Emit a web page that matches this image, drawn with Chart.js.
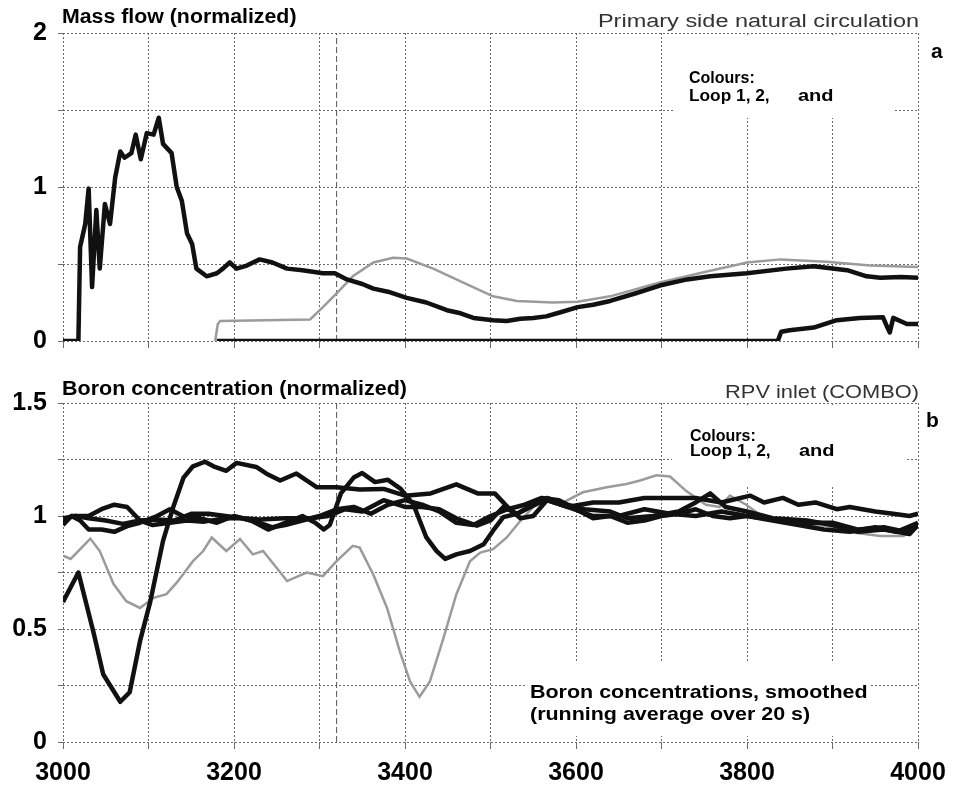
<!DOCTYPE html>
<html>
<head>
<meta charset="utf-8">
<script src="https://cdn.jsdelivr.net/npm/chart.js@4.4.0/dist/chart.umd.min.js"></script>
<style>
body { margin: 0; background: #fff; }
#wrap { position: relative; width: 962px; height: 791px; overflow: hidden; font-family: "Liberation Sans", Arial, sans-serif; }
canvas { position: absolute; left: 0; }
.t { position: absolute; white-space: nowrap; line-height: 1; color: #000; }
.b { font-weight: bold; }
.g { color: #333; }
</style>
</head>
<body>
<div id="wrap">
  <canvas id="flowChart" width="962" height="367" style="top:0"></canvas>
  <canvas id="boronChart" width="962" height="423" style="top:370px"></canvas>

  <div class="t b" style="left:62px;top:6.5px;font-size:19.5px" data-w="235">Mass flow (normalized)</div>
  <div class="t g" style="right:43px;top:11.8px;font-size:18px" data-w="321" data-r="1">Primary side natural circulation</div>
  <div class="t b" style="left:931px;top:40px;font-size:21px">a</div>
  <div class="t b" style="left:689px;top:70px;font-size:16px" data-w="66">Colours:</div>
  <div class="t b" style="left:689px;top:88px;font-size:16px" data-w="81">Loop 1, 2,</div>
  <div class="t b" style="left:798px;top:88px;font-size:16px" data-w="35">and</div>

  <div class="t b" style="left:62px;top:378.5px;font-size:19.5px" data-w="345">Boron concentration (normalized)</div>
  <div class="t g" style="right:43px;top:383px;font-size:18px" data-w="194" data-r="1">RPV inlet (COMBO)</div>
  <div class="t b" style="left:926px;top:409px;font-size:21px">b</div>
  <div class="t b" style="left:690px;top:428px;font-size:16px" data-w="66">Colours:</div>
  <div class="t b" style="left:690px;top:443px;font-size:16px" data-w="81">Loop 1, 2,</div>
  <div class="t b" style="left:799px;top:443px;font-size:16px" data-w="35">and</div>
  <div class="t b" style="left:530px;top:682px;font-size:19px" data-w="338">Boron concentrations, smoothed</div>
  <div class="t b" style="left:530px;top:704px;font-size:19px" data-w="280">(running average over 20 s)</div>
</div>

<script>
// ---- data (time in s, normalized values) ----
const T_MIN = 3000;
const T_MAX = 4000;
const MARKER_T = 3320;

// (a) mass flow
const flowLoopAT = [3000, 3018, 3020, 3026, 3030, 3034, 3039, 3043, 3049, 3055, 3061, 3067, 3072, 3080, 3085, 3091, 3098, 3106, 3112, 3117, 3127, 3133, 3139, 3145, 3151, 3156, 3168, 3180, 3187, 3195, 3203, 3215, 3230, 3245, 3262, 3280, 3304, 3318, 3332, 3350, 3363, 3380, 3402, 3425, 3449, 3465, 3480, 3503, 3519, 3535, 3550, 3565, 3581, 3602, 3620, 3640, 3670, 3698, 3730, 3757, 3800, 3846, 3878, 3917, 3940, 3956, 3980, 4000];
const flowLoopA  = [0, 0, 0.61, 0.76, 0.99, 0.35, 0.85, 0.47, 0.89, 0.76, 1.06, 1.23, 1.19, 1.22, 1.34, 1.18, 1.35, 1.34, 1.45, 1.28, 1.22, 1.0, 0.91, 0.70, 0.63, 0.47, 0.42, 0.44, 0.47, 0.51, 0.47, 0.49, 0.53, 0.51, 0.47, 0.46, 0.44, 0.44, 0.40, 0.37, 0.34, 0.32, 0.28, 0.25, 0.20, 0.18, 0.15, 0.135, 0.13, 0.145, 0.15, 0.16, 0.185, 0.22, 0.235, 0.26, 0.31, 0.36, 0.40, 0.42, 0.44, 0.47, 0.485, 0.46, 0.42, 0.41, 0.415, 0.41];

const flowLoopBT = [3178, 3181, 3184, 3238, 3289, 3304, 3320, 3339, 3363, 3386, 3402, 3433, 3472, 3503, 3531, 3573, 3602, 3640, 3698, 3757, 3800, 3839, 3893, 3944, 4000];
const flowLoopB  = [0, 0.11, 0.13, 0.135, 0.14, 0.22, 0.31, 0.42, 0.51, 0.54, 0.535, 0.47, 0.37, 0.29, 0.26, 0.25, 0.255, 0.29, 0.38, 0.456, 0.51, 0.53, 0.515, 0.49, 0.48];

const flowLoopCT = [3180, 3836, 3840, 3850, 3878, 3905, 3932, 3959, 3964, 3967, 3971, 3987, 4000];
const flowLoopC  = [0, 0, 0.06, 0.07, 0.087, 0.135, 0.15, 0.155, 0.09, 0.055, 0.15, 0.11, 0.11];

// (b) boron concentration
const boronPT = [3000, 3018, 3036, 3047, 3067, 3078, 3090, 3102, 3117, 3129, 3141, 3152, 3166, 3176, 3191, 3203, 3226, 3238, 3254, 3273, 3297, 3320, 3347, 3375, 3400, 3430, 3460, 3485, 3505, 3520, 3535, 3550, 3566, 3590, 3620, 3650, 3680, 3710, 3740, 3770, 3800, 3830, 3860, 3900, 3930, 3960, 3985, 4000];
const boronP  = [0.62, 0.75, 0.48, 0.30, 0.178, 0.22, 0.445, 0.62, 0.89, 1.04, 1.17, 1.22, 1.24, 1.22, 1.20, 1.235, 1.217, 1.187, 1.157, 1.188, 1.127, 1.127, 1.117, 1.12, 1.09, 1.10, 1.14, 1.10, 1.10, 1.04, 0.99, 1.0, 1.07, 1.04, 1.0, 1.0, 1.03, 1.01, 1.0, 1.02, 1.0, 0.985, 0.97, 0.97, 0.94, 0.95, 0.93, 0.96];

const boronQT = [3000, 3010, 3020, 3030, 3045, 3060, 3075, 3090, 3110, 3125, 3140, 3160, 3180, 3200, 3220, 3240, 3260, 3280, 3295, 3305, 3312, 3325, 3340, 3350, 3365, 3380, 3395, 3410, 3425, 3437, 3447, 3460, 3476, 3492, 3503, 3515, 3531, 3547, 3566, 3590, 3610, 3640, 3660, 3690, 3720, 3740, 3757, 3775, 3800, 3830, 3870, 3900, 3930, 3960, 3990, 4000];
const boronQ  = [0.96, 1.0, 0.98, 0.94, 0.94, 0.93, 0.955, 0.97, 1.0, 1.03, 1.0, 0.99, 0.97, 1.0, 0.98, 0.94, 0.97, 1.0, 0.97, 0.94, 0.96, 1.1, 1.17, 1.19, 1.15, 1.16, 1.12, 1.05, 0.905, 0.845, 0.81, 0.83, 0.845, 0.875, 0.935, 0.995, 1.01, 1.04, 1.08, 1.05, 1.03, 1.02, 0.99, 1.0, 1.02, 1.06, 1.10, 1.04, 1.02, 0.99, 0.98, 0.96, 0.93, 0.94, 0.92, 0.96];

const boronRT = [3000, 3010, 3030, 3045, 3060, 3075, 3090, 3105, 3125, 3145, 3165, 3190, 3210, 3230, 3260, 3290, 3310, 3330, 3350, 3375, 3400, 3420, 3440, 3460, 3484, 3500, 3515, 3531, 3550, 3566, 3590, 3620, 3650, 3680, 3710, 3740, 3770, 3804, 3820, 3842, 3860, 3880, 3905, 3920, 3950, 3971, 3990, 4000];
const boronR  = [0.97, 1.0, 1.0, 1.03, 1.05, 1.04, 0.98, 0.96, 0.97, 0.98, 0.975, 0.99, 0.99, 0.985, 0.99, 0.99, 1.0, 1.03, 1.02, 1.07, 1.04, 1.04, 1.03, 0.99, 0.957, 0.98, 1.04, 1.01, 1.05, 1.07, 1.04, 1.06, 1.06, 1.08, 1.08, 1.08, 1.06, 1.09, 1.06, 1.08, 1.05, 1.06, 1.03, 1.04, 1.02, 1.01, 1.0, 1.01];

const boronST = [3000, 3015, 3030, 3050, 3070, 3090, 3110, 3130, 3150, 3170, 3190, 3210, 3230, 3245, 3260, 3280, 3300, 3320, 3340, 3360, 3380, 3400, 3420, 3440, 3460, 3480, 3500, 3520, 3540, 3560, 3580, 3600, 3620, 3640, 3660, 3680, 3700, 3720, 3740, 3760, 3780, 3800, 3830, 3860, 3890, 3920, 3950, 3975, 4000];
const boronS  = [0.99, 1.0, 0.99, 0.98, 0.965, 0.98, 0.985, 0.98, 1.01, 1.01, 1.0, 0.99, 0.97, 0.95, 0.96, 0.98, 1.0, 1.03, 1.04, 1.01, 1.05, 1.07, 1.05, 1.02, 0.97, 0.96, 1.0, 1.03, 1.05, 1.08, 1.07, 1.03, 0.99, 1.0, 0.97, 0.98, 1.0, 1.01, 1.03, 1.0, 0.99, 1.0, 0.98, 0.96, 0.94, 0.93, 0.95, 0.93, 0.97];

const boronGT = [3000, 3009, 3032, 3043, 3059, 3074, 3090, 3106, 3121, 3133, 3152, 3164, 3174, 3191, 3207, 3222, 3234, 3250, 3262, 3285, 3304, 3320, 3339, 3347, 3363, 3379, 3394, 3406, 3417, 3429, 3445, 3460, 3476, 3488, 3503, 3519, 3535, 3550, 3566, 3585, 3608, 3636, 3659, 3675, 3694, 3710, 3729, 3752, 3768, 3780, 3799, 3819, 3838, 3869, 3893, 3924, 3956, 3983, 4000];
const boronG  = [0.825, 0.81, 0.90, 0.845, 0.70, 0.623, 0.593, 0.638, 0.654, 0.705, 0.80, 0.845, 0.905, 0.845, 0.898, 0.83, 0.845, 0.77, 0.712, 0.75, 0.734, 0.80, 0.868, 0.86, 0.74, 0.593, 0.40, 0.267, 0.20, 0.267, 0.46, 0.653, 0.80, 0.838, 0.853, 0.905, 0.979, 1.04, 1.068, 1.06, 1.105, 1.127, 1.142, 1.157, 1.18, 1.175, 1.11, 1.05, 1.04, 1.09, 1.05, 0.995, 0.98, 0.964, 0.957, 0.927, 0.912, 0.912, 0.95];

// ---- helpers ----
const BLACK = '#111';
const GREY = '#9b9b9b';
const GRID = '#6a6a6a';

function pts(t, v) {
    return t.map((x, i) => ({ x: x, y: v[i] }));
}

function blackLine(t, v) {
    return { data: pts(t, v), borderColor: BLACK, borderWidth: 4.5, pointRadius: 0, tension: 0, borderJoinStyle: 'round' };
}

function greyLine(t, v) {
    return { data: pts(t, v), borderColor: GREY, borderWidth: 2.5, pointRadius: 0, tension: 0 };
}

function markerLine(yMin, yMax) {
    return {
        data: [{ x: MARKER_T, y: yMin }, { x: MARKER_T, y: yMax }],
        borderColor: '#555', borderWidth: 1, borderDash: [6, 3], pointRadius: 0
    };
}

// white boxes behind the annotation texts (hide grid, not the curves)
const maskPlugin = {
    id: 'mask',
    beforeDatasetsDraw(chart, args, opts) {
        const ctx = chart.ctx;
        ctx.save();
        ctx.fillStyle = '#fff';
        (opts.boxes || []).forEach(b => ctx.fillRect(b[0], b[1], b[2], b[3]));
        ctx.restore();
    }
};

function makeOptions(yMax, yStep, showX, axisHeight, boxes) {
    return {
        responsive: false,
        animation: false,
        events: [],
        layout: { padding: { top: 33, right: 44, left: 0, bottom: 0 } },
        plugins: { legend: { display: false }, tooltip: { enabled: false }, mask: { boxes: boxes } },
        scales: {
            x: {
                type: 'linear', min: T_MIN, max: T_MAX,
                afterFit: s => { s.height = axisHeight; },
                grid: { color: GRID, lineWidth: 1, tickLength: 7 },
                border: { display: false, dash: [2, 2] },
                ticks: {
                    display: showX, stepSize: 100, autoSkip: false, maxRotation: 0, padding: 9,
                    color: '#000', font: { family: 'Liberation Sans, Arial', size: 25, weight: 'bold' },
                    callback: v => (v % 200 === 0 ? String(v) : '')
                }
            },
            y: {
                min: 0, max: yMax,
                afterFit: s => { s.width = 63; },
                grid: { color: GRID, lineWidth: 1, tickLength: 5 },
                border: { display: false, dash: [2, 2] },
                ticks: {
                    stepSize: yStep, autoSkip: false, padding: 11,
                    color: '#000', font: { family: 'Liberation Sans, Arial', size: 25, weight: 'bold' },
                    callback: v => (Math.abs(v * 2 - Math.round(v * 2)) < 1e-6 && (yMax === 1.5 || v % 1 === 0) ? String(v) : '')
                }
            }
        }
    };
}

new Chart(document.getElementById('flowChart'), {
    type: 'line',
    data: {
        datasets: [
            blackLine(flowLoopAT, flowLoopA),
            blackLine(flowLoopCT, flowLoopC),
            greyLine(flowLoopBT, flowLoopB),
            markerLine(0, 2)
        ]
    },
    options: makeOptions(2, 0.5, false, 22, [[673, 35, 222, 83]]),
    plugins: [maskPlugin]
});

new Chart(document.getElementById('boronChart'), {
    type: 'line',
    data: {
        datasets: [
            blackLine(boronPT, boronP),
            blackLine(boronQT, boronQ),
            blackLine(boronRT, boronR),
            blackLine(boronST, boronS),
            greyLine(boronGT, boronG),
            markerLine(0, 1.5)
        ]
    },
    options: makeOptions(1.5, 0.25, true, 51, [[672, 35, 233, 80], [525, 292, 345, 74]]),
    plugins: [maskPlugin]
});

// stretch the texts to the widths seen in the picture
document.querySelectorAll('.t[data-w]').forEach(el => {
    const k = parseFloat(el.dataset.w) / el.offsetWidth;
    el.style.transformOrigin = el.dataset.r ? 'right top' : 'left top';
    el.style.transform = 'scaleX(' + k.toFixed(3) + ')';
});
</script>
</body>
</html>
